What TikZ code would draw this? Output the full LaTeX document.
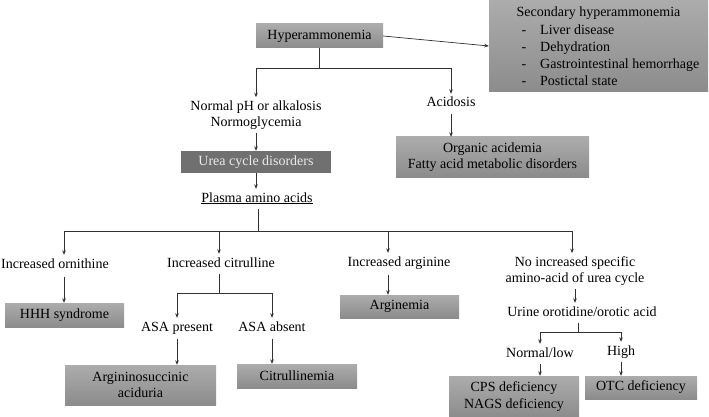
\documentclass[tikz,border=0pt]{standalone}
\usepackage{fontspec}
\setmainfont{Liberation Serif}
\usetikzlibrary{arrows.meta,calc}
\definecolor{boxtop}{RGB}{172,172,172}
\definecolor{boxbot}{RGB}{140,140,140}
\definecolor{darkbox}{RGB}{112,112,112}
\definecolor{linec}{RGB}{50,50,50}
\tikzset{
  txt/.style={font=\fontsize{14}{16.5}\selectfont, text=black},
  lbl/.style={txt, anchor=base, inner xsep=1pt, inner ysep=3pt, text height=10pt, text depth=3.5pt},
  mlbl/.style={txt, inner xsep=1pt, inner ysep=3pt, align=center},
  gbox/.style={txt, align=center, inner sep=0pt, top color=boxtop, bottom color=boxbot, draw=none},
  dbox/.style={txt, align=center, inner sep=0pt, fill=darkbox, text=white!92!black},
  ln/.style={draw=linec, line width=0.7pt},
  arr/.style={ln, -{Stealth[length=4.5pt,width=3.6pt]}},
}
\begin{document}
\begin{tikzpicture}[x=1pt,y=-1pt]
\useasboundingbox (0,0) rectangle (709,417);

% boxes
\node[gbox, minimum width=127pt, minimum height=24pt] (hyp) at (319.5,36) {Hyperammonemia};
\node[gbox, minimum width=219pt, minimum height=92pt] (sec) at (598.5,46) {};
\node[txt, inner sep=0pt, anchor=base] (sech) at (598.5,17) {Secondary hyperammonemia};
\node[txt, inner sep=0pt, anchor=base] (d1) at (524,35) {-};
\node[txt, inner sep=0pt, anchor=base] (d2) at (524,52) {-};
\node[txt, inner sep=0pt, anchor=base] (d3) at (524,69) {-};
\node[txt, inner sep=0pt, anchor=base] (d4) at (524,86) {-};
\node[txt, inner sep=0pt, anchor=base west] (s1) at (540,35) {Liver disease};
\node[txt, inner sep=0pt, anchor=base west] (s2) at (540,52) {Dehydration};
\node[txt, inner sep=0pt, anchor=base west] (s3) at (540,69) {Gastrointestinal hemorrhage};
\node[txt, inner sep=0pt, anchor=base west] (s4) at (540,86) {Postictal state};

\node[mlbl] (normal) at (256,115) {Normal pH or alkalosis\\Normoglycemia};
\node[lbl] (acid) at (451,107) {Acidosis};
\node[dbox, minimum width=150pt, minimum height=22pt] (urea) at (256,162) {Urea cycle disorders};
\node[gbox, minimum width=193pt, minimum height=40pt] (org) at (492.5,157) {Organic acidemia\\Fatty acid metabolic disorders};
\node[lbl] (plasma) at (257,202) {\underline{Plasma amino acids}};

\node[lbl] (orn) at (55,268) {Increased ornithine};
\node[lbl] (cit) at (221,267) {Increased citrulline};
\node[lbl] (arg) at (399,266) {Increased arginine};
\node[mlbl] (noinc) at (575,271) {No increased specific\\amino-acid of urea cycle};

\node[gbox, minimum width=119pt, minimum height=24pt] (hhh) at (64.5,315) {HHH syndrome};
\node[lbl] (asap) at (177,331) {ASA present};
\node[lbl] (asaa) at (272,331) {ASA absent};
\node[gbox, minimum width=151pt, minimum height=40pt] (asabox) at (140.5,385) {Argininosuccinic\\aciduria};
\node[gbox, minimum width=120pt, minimum height=24pt] (citbox) at (297,376) {Citrullinemia};
\node[gbox, minimum width=119pt, minimum height=23pt] (argbox) at (399.5,306.5) {Arginemia};

\node[lbl] (urine) at (582,316) {Urine orotidine/orotic acid};
\node[lbl] (nl) at (540,357) {Normal/low};
\node[lbl] (high) at (621,355) {High};
\node[gbox, minimum width=130pt, minimum height=41pt] (cps) at (514,396.5) {CPS deficiency\\NAGS deficiency};
\node[gbox, minimum width=112pt, minimum height=23pt] (otc) at (641,387.5) {OTC deficiency};

% connectors top
\draw[arr] (hyp.east) -- (sec.west);
\draw[ln] (hyp.south) -- ++(0,20) coordinate (j1);
\draw[arr] (j1) -| (normal.north);
\draw[arr] (j1) -| (acid.north);
\draw[arr] (normal.south) -- (urea.north);
\draw[arr] (acid.south) -- (acid.south |- org.north);
\draw[arr] (urea.south) -- (urea.south |- plasma.north);

% level 2
\coordinate (lvl2) at (0,231);
\coordinate (bA) at (64,231);
\coordinate (bB) at (219,231);
\coordinate (bC) at (388,231);
\coordinate (bD) at (572,231);
\coordinate (pm) at (258,0);
\draw[ln] (pm |- plasma.south) -- (pm |- lvl2);
\draw[ln] (bA) -- (bD);
\draw[arr] (bA) -- (bA |- orn.north);
\draw[arr] (bB) -- (bB |- cit.north);
\draw[arr] (bC) -- (bC |- arg.north);
\draw[arr] (bD) -- (bD |- noinc.north);

\draw[arr, shorten <=2pt] (bA |- orn.south) -- (bA |- hhh.north);
\draw[arr, shorten <=2pt] (bC |- arg.south) -- (bC |- argbox.north);

% citrulline branch
\coordinate (c2) at (219,293);
\draw[ln] (bB |- cit.south) -- (c2);
\draw[arr] (c2) -| (asap.north);
\draw[arr] (c2) -| (asaa.north);
\draw[arr, shorten <=1pt] (asap.south) -- (asap.south |- asabox.north);
\draw[arr, shorten <=1pt] (asaa.south) -- (asaa.south |- citbox.north);

% urine branch
\draw[arr] (noinc.south) -- (noinc.south |- urine.north);
\coordinate (u2) at (578,332);
\draw[ln] (urine.south -| u2) -- (u2);
\draw[arr] (u2) -| (nl.north);
\draw[arr] (u2) -| (high.north);
\draw[arr] (nl.south) -- (nl.south |- cps.north);
\draw[arr] (high.south) -- (high.south |- otc.north);
\end{tikzpicture}
\end{document}
